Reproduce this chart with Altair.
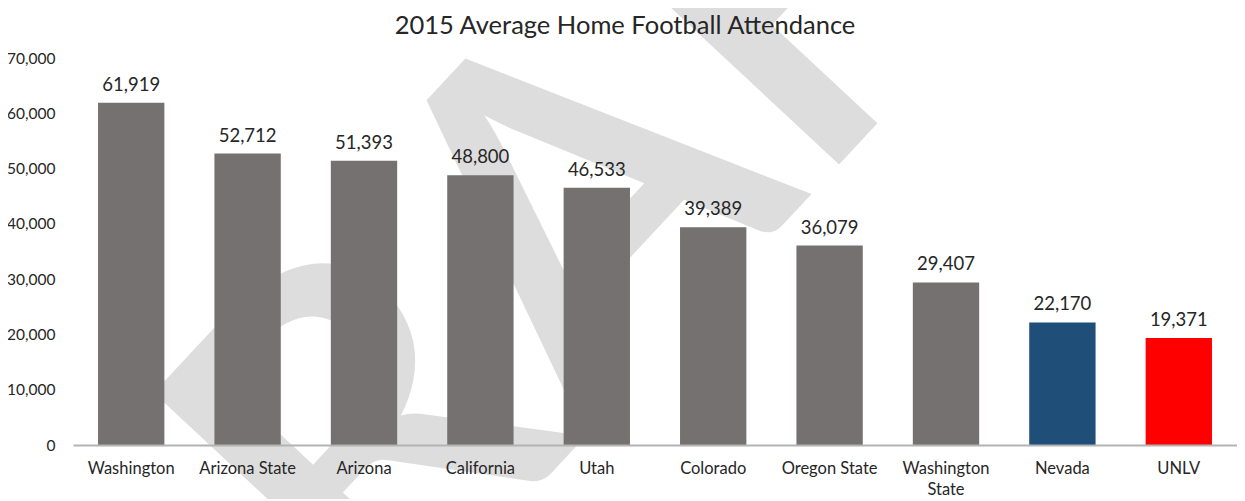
import altair as alt
import pandas as pd

# ---- data ----
title_text = "2015 Average Home Football Attendance"
schools = ["Washington", "Arizona State", "Arizona", "California", "Utah",
           "Colorado", "Oregon State", "Washington State", "Nevada", "UNLV"]
attendance = [61919, 52712, 51393, 48800, 46533, 39389, 36079, 29407, 22170, 19371]
bar_colors = ["#767171", "#767171", "#767171", "#767171", "#767171",
              "#767171", "#767171", "#767171", "#1F4E79", "#FF0000"]
y_ticks = [0, 10000, 20000, 30000, 40000, 50000, 60000, 70000]
watermark = ["DRAFT"]

FONT = "Lato"
TEXT = "#262626"
W, H = 1164, 387

df = pd.DataFrame({"school": schools, "attendance": attendance, "color": bar_colors})

x_enc = alt.X(
    "school:N", sort=schools,
    scale=alt.Scale(paddingInner=0.43, paddingOuter=0.215),
    axis=alt.Axis(title=None, labelAngle=0, labelFont=FONT, labelFontSize=16.5,
                  labelColor=TEXT, domainColor="#b3b3b3", domainWidth=2,
                  ticks=False, labelPadding=15, labelLineHeight=21, zindex=1,
                  labelExpr="datum.label == 'Washington State' ? ['Washington', 'State'] : datum.label"),
)
y_enc = alt.Y(
    "attendance:Q",
    scale=alt.Scale(domain=[0, 70000], nice=False),
    axis=alt.Axis(title=None, values=y_ticks, format=",.0f", grid=False, domain=False,
                  ticks=False, labelPadding=18, labelFont=FONT, labelFontSize=15.5,
                  labelColor=TEXT, zindex=1),
)

wm = alt.Chart(pd.DataFrame({"w": watermark})).mark_text(
    font="Noto Sans ExtraCondensed, Liberation Sans Narrow, Lato", fontSize=480,
    fontWeight=600, angle=313, color="#dddddd",
    align="center", baseline="middle",
).encode(x=alt.value(482), y=alt.value(200), text="w:N")

title = alt.Chart(pd.DataFrame({"t": [title_text]})).mark_text(
    font=FONT, fontSize=25.5, color=TEXT, align="center", baseline="alphabetic",
).encode(x=alt.value(552), y=alt.value(-24), text="t:N")

bars = alt.Chart(df).mark_bar().encode(
    x=x_enc, y=y_enc, color=alt.Color("color:N", scale=None)
)

labels = alt.Chart(df).mark_text(
    font=FONT, fontSize=18.5, color=TEXT, baseline="alphabetic", dy=-12,
).encode(
    x=alt.X("school:N", sort=schools),
    y="attendance:Q",
    text=alt.Text("attendance:Q", format=","),
)

chart = alt.layer(wm, bars, labels, title).properties(
    width=W, height=H,
    autosize=alt.AutoSizeParams(type="none"),
    padding={"left": 65, "top": 50, "right": 0, "bottom": 54},
).configure_view(stroke=None)

chart.save("out.html", embed_options={"renderer": "svg", "actions": False})
